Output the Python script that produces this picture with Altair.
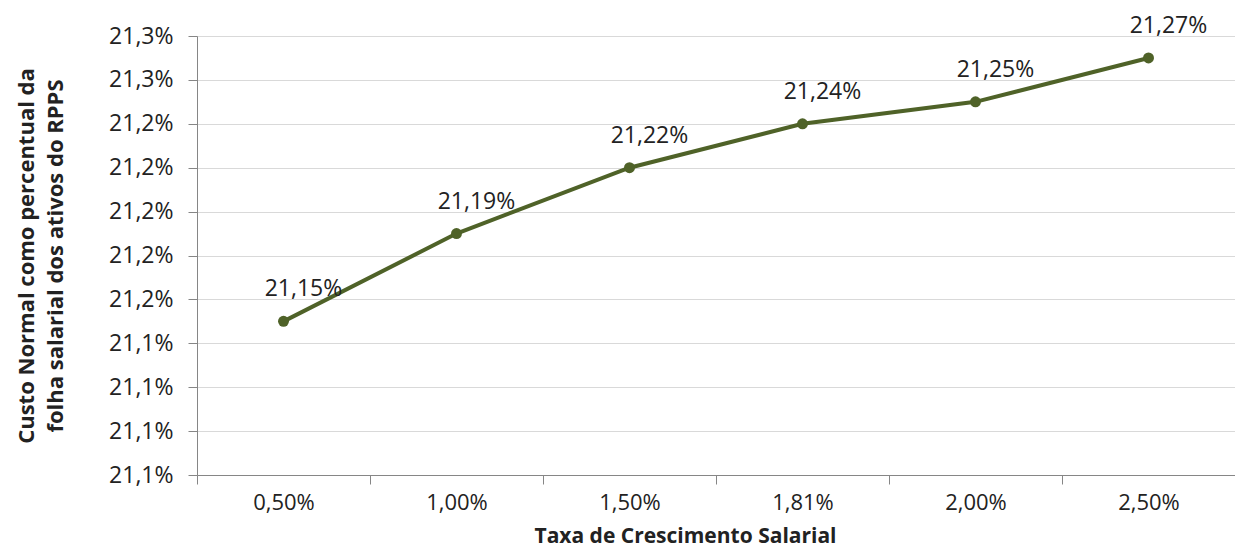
import altair as alt
import pandas as pd

categories = ["0,50%", "1,00%", "1,50%", "1,81%", "2,00%", "2,50%"]
values = [21.15, 21.19, 21.22, 21.24, 21.25, 21.27]
labels = ["21,15%", "21,19%", "21,22%", "21,24%", "21,25%", "21,27%"]
y_ticks = [21.08, 21.10, 21.12, 21.14, 21.16, 21.18, 21.20, 21.22, 21.24, 21.26, 21.28]

df = pd.DataFrame({"cat": categories, "val": values, "label": labels})

FONT = "Open Sans"
COLOR = "#4F6228"
TXT = "#222222"
W, H = 1038, 439

x = alt.X(
    "cat:N",
    sort=categories,
    scale=alt.Scale(type="band", paddingInner=0, paddingOuter=0),
    axis=alt.Axis(
        title="Taxa de Crescimento Salarial",
        tickBand="extent",
        labelAngle=0,
        grid=False,
        labelFontSize=22,
        labelColor=TXT,
        labelPadding=8,
        titleFontSize=21,
        titleFontWeight="bold",
        titleColor=TXT,
        titleBaseline="alphabetic",
        titleX=488,
        titleY=67,
        titleAnchor="middle",
        titleAlign="center",
        domainColor="#868686",
        tickColor="#868686",
        tickSize=9,
        labelFont=FONT,
        titleFont=FONT,
    ),
)

y = alt.Y(
    "val:Q",
    scale=alt.Scale(domain=[21.08, 21.28], nice=False, zero=False),
    axis=alt.Axis(
        title=["Custo Normal como percentual da", "folha salarial dos ativos do RPPS"],
        values=y_ticks,
        labelExpr="replace(format(datum.value, '.1f'), '.', ',') + '%'",
        labelFontSize=23,
        labelColor=TXT,
        labelPadding=15,
        titleFontSize=22,
        titleFontWeight="bold",
        titleColor=TXT,
        titleLineHeight=29,
        titleBaseline="alphabetic",
        titleAngle=-90,
        titleAlign="center",
        titleX=-164,
        titleY=H / 2,
        gridColor="#D9D9D9",
        domainColor="#868686",
        tickColor="#868686",
        tickSize=9,
        labelFont=FONT,
        titleFont=FONT,
    ),
)

base = alt.Chart(df).encode(x=x, y=y)

line = base.mark_line(color=COLOR, strokeWidth=4)
pts = base.mark_point(color=COLOR, filled=True, size=120, opacity=1)
text = base.mark_text(
    dx=20, dy=-32, fontSize=23, font=FONT, color=TXT
).encode(text="label:N")

chart = (
    alt.layer(line, pts, text)
    .properties(
        width=W,
        height=H,
        autosize=alt.AutoSizeParams(type="none"),
        padding={"left": 189, "top": 28, "right": 0, "bottom": 74},
    )
    .configure_view(stroke=None)
    .configure(background="white")
)

chart.save("out.html", embed_options={"renderer": "svg", "actions": False})
